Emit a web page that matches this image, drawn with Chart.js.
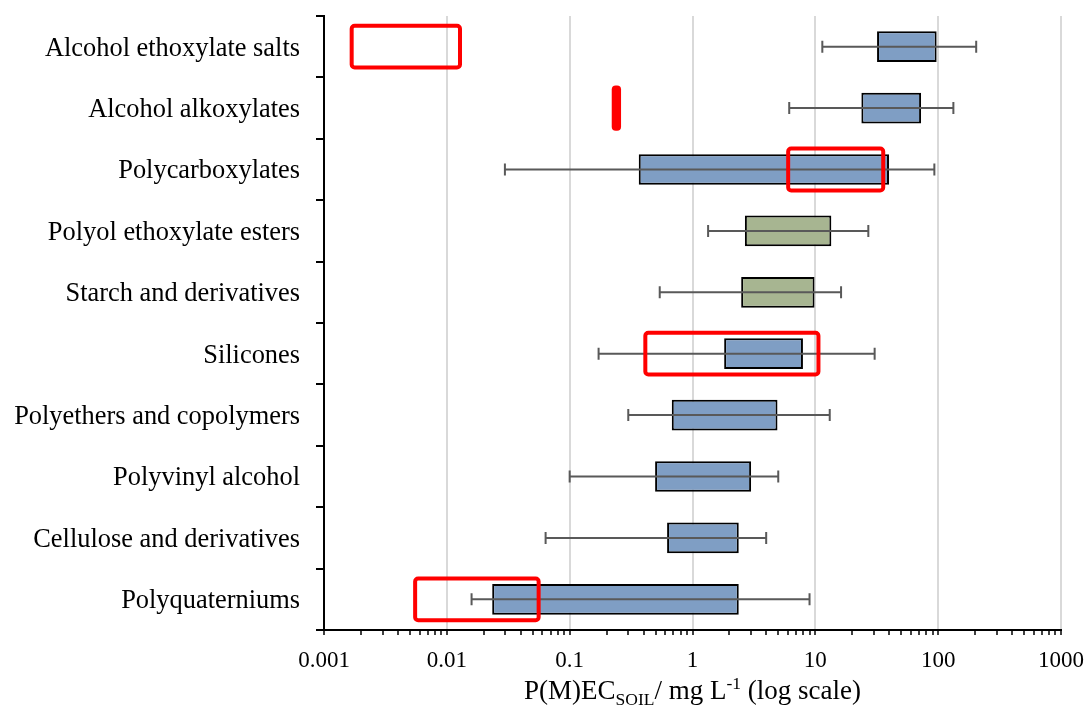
<!DOCTYPE html>
<html>
<head>
<meta charset="utf-8">
<script src="https://cdn.jsdelivr.net/npm/chart.js"></script>
<style>
  body { margin: 0; background: #ffffff; }
  #wrap { width: 1088px; height: 711px; }
</style>
</head>
<body>
<div id="wrap"><canvas id="pecChart" width="1088" height="711"></canvas></div>
<script>
const categories = [
    'Alcohol ethoxylate salts',
    'Alcohol alkoxylates',
    'Polycarboxylates',
    'Polyol ethoxylate esters',
    'Starch and derivatives',
    'Silicones',
    'Polyethers and copolymers',
    'Polyvinyl alcohol',
    'Cellulose and derivatives',
    'Polyquaterniums'
];
const boxLow = [31.8, 23.7, 0.365, 2.67, 2.49, 1.81, 0.678, 0.496, 0.621, 0.0234];
const boxHigh = [97.2, 72.6, 39.8, 13.5, 9.85, 7.93, 4.92, 3.00, 2.38, 2.38];
const whiskerLow = [11.4, 6.13, 0.0297, 1.34, 0.541, 0.172, 0.300, 0.100, 0.0637, 0.0159];
const whiskerHigh = [204, 133, 93.1, 27.0, 16.2, 30.4, 13.1, 4.99, 3.98, 8.97];
const groups = ['blue', 'blue', 'blue', 'green', 'green', 'blue', 'blue', 'blue', 'blue', 'blue'];

// red highlight boxes (category index, low, high)
const highlightCat = [0, 2, 5, 9];
const highlightLow = [0.00168, 6.01, 0.413, 0.00552];
const highlightHigh = [0.0128, 35.7, 10.6, 0.0559];
// small filled red marker
const markerCat = [1];
const markerLow = [0.220];
const markerHigh = [0.262];

const decades = [0.001, 0.01, 0.1, 1, 10, 100, 1000];
const decadeLabels = ['0.001', '0.01', '0.1', '1', '10', '100', '1000'];

const groupColors = { blue: '#7f9ec4', green: '#a7b591' };

const tickValues = [];
decades.forEach((d, i) => {
    tickValues.push(d);
    if (i < decades.length - 1) {
        for (let m = 2; m <= 9; m++) tickValues.push(d * m);
    }
});

const isDecade = (v) => decades.some((d) => Math.abs(Math.log10(v) - Math.log10(d)) < 1e-6);

const serif = 'Liberation Serif';

const whiskerPlugin = {
    id: 'whiskers',
    afterDatasetsDraw(chart) {
        const ctx = chart.ctx;
        const x = chart.scales.x;
        const y = chart.scales.y;
        ctx.save();
        ctx.strokeStyle = '#595959';
        ctx.lineWidth = 2;
        for (let i = 0; i < categories.length; i++) {
            const yc = y.getPixelForValue(i);
            const x1 = x.getPixelForValue(whiskerLow[i]);
            const x2 = x.getPixelForValue(whiskerHigh[i]);
            ctx.beginPath();
            ctx.moveTo(x1, yc);
            ctx.lineTo(x2, yc);
            ctx.moveTo(x1, yc - 6);
            ctx.lineTo(x1, yc + 6);
            ctx.moveTo(x2, yc - 6);
            ctx.lineTo(x2, yc + 6);
            ctx.stroke();
        }
        ctx.restore();
    }
};

const highlightPlugin = {
    id: 'highlights',
    afterDraw(chart) {
        const ctx = chart.ctx;
        const x = chart.scales.x;
        const y = chart.scales.y;
        const step = y.getPixelForValue(1) - y.getPixelForValue(0);
        ctx.save();
        ctx.strokeStyle = '#ff0000';
        ctx.fillStyle = '#ff0000';
        ctx.lineWidth = 4;
        for (let i = 0; i < highlightCat.length; i++) {
            const yc = y.getPixelForValue(highlightCat[i]);
            const x1 = x.getPixelForValue(highlightLow[i]);
            const x2 = x.getPixelForValue(highlightHigh[i]);
            ctx.beginPath();
            ctx.roundRect(x1, yc - step * 0.34, x2 - x1, step * 0.68, 3);
            ctx.stroke();
        }
        for (let i = 0; i < markerCat.length; i++) {
            const yc = y.getPixelForValue(markerCat[i]);
            const x1 = x.getPixelForValue(markerLow[i]);
            const x2 = x.getPixelForValue(markerHigh[i]);
            ctx.beginPath();
            ctx.roundRect(x1, yc - step * 0.37, x2 - x1, step * 0.74, 4);
            ctx.fill();
        }
        ctx.restore();
    }
};

const axisTitlePlugin = {
    id: 'axisTitle',
    afterDraw(chart) {
        const ctx = chart.ctx;
        const area = chart.chartArea;
        const parts = [
            { text: 'P(M)EC', size: 27, dy: 0 },
            { text: 'SOIL', size: 17.5, dy: 6 },
            { text: '/ mg L', size: 27, dy: 0 },
            { text: '-1', size: 17.5, dy: -10 },
            { text: ' (log scale)', size: 27, dy: 0 }
        ];
        ctx.save();
        ctx.fillStyle = '#000';
        ctx.textBaseline = 'alphabetic';
        ctx.textAlign = 'left';
        let total = 0;
        parts.forEach((p) => {
            ctx.font = p.size + 'px "' + serif + '"';
            p.w = ctx.measureText(p.text).width;
            total += p.w;
        });
        let xPos = (area.left + area.right) / 2 - total / 2;
        const base = area.bottom + 69;
        parts.forEach((p) => {
            ctx.font = p.size + 'px "' + serif + '"';
            ctx.fillText(p.text, xPos, base + p.dy);
            xPos += p.w;
        });
        ctx.restore();
    }
};

const chartCanvas = document.getElementById('pecChart');

new Chart(chartCanvas, {
    type: 'bar',
    data: {
        labels: categories,
        datasets: [
            {
                label: 'P(M)EC soil',
                data: boxLow.map((lo, i) => [lo, boxHigh[i]]),
                backgroundColor: groups.map((g) => groupColors[g]),
                borderColor: '#000000',
                borderWidth: 2,
                borderSkipped: false,
                categoryPercentage: 1,
                barPercentage: 0.5
            }
        ]
    },
    options: {
        indexAxis: 'y',
        responsive: false,
        animation: false,
        events: [],
        layout: {
            padding: { top: 16, right: 27, bottom: 0, left: 0 }
        },
        plugins: {
            legend: { display: false },
            tooltip: { enabled: false }
        },
        scales: {
            x: {
                type: 'logarithmic',
                position: 'bottom',
                min: 0.001,
                max: 1000,
                afterBuildTicks: (scale) => {
                    scale.ticks = tickValues.map((v) => ({ value: v, major: isDecade(v) }));
                },
                afterFit: (scale) => {
                    scale.height = 81;
                    scale.paddingLeft = 0;
                    scale.paddingRight = 0;
                },
                border: { color: '#000000', width: 2 },
                grid: {
                    color: (c) => (c.tick && isDecade(c.tick.value) ? '#d9d9d9' : 'rgba(0,0,0,0)'),
                    lineWidth: 2,
                    tickColor: '#000000',
                    tickWidth: 1.5,
                    tickLength: 5
                },
                ticks: {
                    autoSkip: false,
                    maxRotation: 0,
                    padding: 12,
                    color: '#000000',
                    font: { family: serif, size: 23 },
                    callback: (value) => {
                        const idx = decades.findIndex((d) => Math.abs(Math.log10(value) - Math.log10(d)) < 1e-6);
                        return idx >= 0 ? decadeLabels[idx] : '';
                    }
                }
            },
            y: {
                type: 'category',
                offset: true,
                afterFit: (scale) => {
                    scale.width = 324;
                    scale.paddingTop = 0;
                    scale.paddingBottom = 0;
                },
                border: { color: '#000000', width: 2 },
                grid: {
                    offset: true,
                    drawOnChartArea: false,
                    color: '#000000',
                    lineWidth: 2,
                    tickLength: 8
                },
                ticks: {
                    padding: 16,
                    labelOffset: 2,
                    color: '#000000',
                    font: { family: serif, size: 26.4 }
                }
            }
        }
    },
    plugins: [whiskerPlugin, highlightPlugin, axisTitlePlugin]
});
</script>
</body>
</html>
